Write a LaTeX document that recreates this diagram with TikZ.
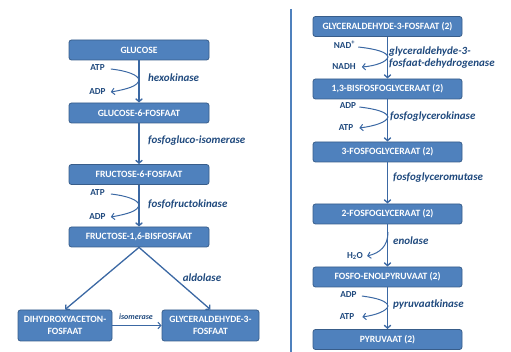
\documentclass[tikz,border=0pt]{standalone}
\usepackage{fontspec}
\setmainfont{Carlito}
\usetikzlibrary{arrows.meta}
\definecolor{boxblue}{HTML}{4F81BD}
\definecolor{boxline}{HTML}{385D8A}
\definecolor{arrowblue}{HTML}{3B68A3}
\definecolor{textblue}{HTML}{1F497D}
\tikzset{
  tip/.style={-{Straight Barb[length=3pt,width=6.5pt]}},
}
\begin{document}
\begin{tikzpicture}[
        x=1pt, y=-1pt,
        box/.style={rectangle, rounded corners=2.5pt, draw=boxline, fill=boxblue, line width=0.8pt,
                    text=white, font=\fontsize{9.6}{12}\selectfont\bfseries, align=center,
                    minimum width=140pt, minimum height=20pt, inner sep=1pt},
        rbox/.style={box, minimum width=149pt},
        enzyme/.style={font=\fontsize{11}{11.5}\selectfont\bfseries\itshape, text=textblue, anchor=west, inner sep=0pt, align=left},
        cofactor/.style={font=\fontsize{9.2}{10}\selectfont\bfseries, text=textblue, inner sep=0pt},
        arrow/.style={tip, line width=1.3pt, arrowblue},
        side/.style={tip, line width=1pt, arrowblue}
    ]
    \useasboundingbox (0,0) rectangle (511,352);

    % Left column
    \node[box] (glucose) at (139,50) {GLUCOSE};
    \node[box] (g6p) at (139,113) {GLUCOSE-6-FOSFAAT};
    \node[box] (f6p) at (139,174.5) {FRUCTOSE-6-FOSFAAT};
    \node[box] (f16bp) at (139,237) {FRUCTOSE-1,6-BISFOSFAAT};
    \node[box, minimum width=94pt, minimum height=31pt] (dhap) at (65,325.5) {DIHYDROXYACETON-\\FOSFAAT};
    \node[box, minimum width=97pt, minimum height=31pt] (gap) at (210.5,325.5) {GLYCERALDEHYDE-3-\\FOSFAAT};

    % Separator
    \draw[boxblue, line width=2.5pt] (291,9) -- (291,352);

    % Right column
    \node[rbox] (gap2) at (387.5,26.5) {GLYCERALDEHYDE-3-FOSFAAT (2)};
    \node[rbox] (bpg) at (387.5,89) {1,3-BISFOSFOGLYCERAAT (2)};
    \node[rbox] (pg3) at (387.5,152) {3-FOSFOGLYCERAAT (2)};
    \node[rbox] (pg2) at (387.5,214) {2-FOSFOGLYCERAAT (2)};
    \node[rbox] (pep) at (387.5,277) {FOSFO-ENOLPYRUVAAT (2)};
    \node[rbox] (pyr) at (387.5,339.5) {PYRUVAAT (2)};

    % Cofactors
    \node[cofactor] (atp1) at (97.5,68) {ATP};
    \node[cofactor] (adp1) at (97.5,92) {ADP};
    \node[cofactor] (atp2) at (97.5,193) {ATP};
    \node[cofactor] (adp2) at (97.5,217) {ADP};
    \node[cofactor] (nad) at (344.5,45) {NAD\textsuperscript{+}};
    \node[cofactor] (nadh) at (344,67) {NADH};
    \node[cofactor] (adp3) at (348,106) {ADP};
    \node[cofactor] (atp3) at (346,128) {ATP};
    \node[cofactor] (water) at (355,256) {H\textsubscript{2}O};
    \node[cofactor] (adp4) at (348.5,295) {ADP};
    \node[cofactor] (atp4) at (347,317) {ATP};

    % Enzymes
    \node[enzyme] (hk) at (148,78) {hexokinase};
    \node[enzyme] (gpi) at (148,141) {fosfogluco-isomerase};
    \node[enzyme] (pfk) at (148,204) {fosfofructokinase};
    \node[enzyme, anchor=center] (ald) at (202,278) {aldolase};
    \node[enzyme, anchor=center, font=\fontsize{8}{8}\selectfont\bfseries\itshape] (tpi) at (136,317) {isomerase};
    \node[enzyme] (gapdh) at (389,57.5) {glyceraldehyde-3-\\fosfaat-dehydrogenase};
    \node[enzyme] (pgk) at (390,117) {fosfoglycerokinase};
    \node[enzyme] (pgm) at (393,178) {fosfoglyceromutase};
    \node[enzyme] (eno) at (393,241) {enolase};
    \node[enzyme] (pk) at (393,305) {pyruvaatkinase};

    % Main flow arrows
    \draw[arrow] (glucose) -- (g6p);
    \draw[arrow] (g6p) -- (f6p);
    \draw[arrow] (f6p) -- (f16bp);
    \draw[arrow] (f16bp.south) -- (dhap.north);
    \draw[arrow] (f16bp.south) -- (gap.north);
    \draw[side] (dhap) -- (gap);
    \draw[arrow] (gap2) -- (bpg);
    \draw[arrow] (bpg) -- (pg3);
    \draw[arrow] (pg3) -- (pg2);
    \draw[arrow] (pg2) -- (pep);
    \draw[arrow] (pep) -- (pyr);

    % Side arrows
    \draw[side] ([xshift=6pt,yshift=-1pt]atp1.east) .. controls (128,71) and (138,75) .. (139,80)
                .. controls (138,86) and (128,89) .. ([xshift=5pt]adp1.east);
    \draw[side] ([xshift=6pt,yshift=-1pt]atp2.east) .. controls (128,196) and (138,200) .. (139,205)
                .. controls (138,211) and (128,214) .. ([xshift=5pt]adp2.east);
    \draw[side] ([xshift=3pt,yshift=-2pt]nad.east) .. controls (376,49) and (387,52) .. (388,57)
                .. controls (387,62) and (375,66) .. ([xshift=6pt]nadh.east);
    \draw[side] ([xshift=3pt,yshift=-1pt]adp3.east) .. controls (376,109) and (387,112) .. (388,117)
                .. controls (387,122) and (375,126) .. ([xshift=6pt]atp3.east);
    \draw[side] (388,232) .. controls (388,246) and (380,253) .. ([xshift=4pt]water.east);
    \draw[side] ([xshift=5pt,yshift=-1pt]adp4.east) .. controls (377,298) and (387,301) .. (388,306)
                .. controls (387,311) and (376,315) .. ([xshift=8pt]atp4.east);

\end{tikzpicture}
\end{document}
